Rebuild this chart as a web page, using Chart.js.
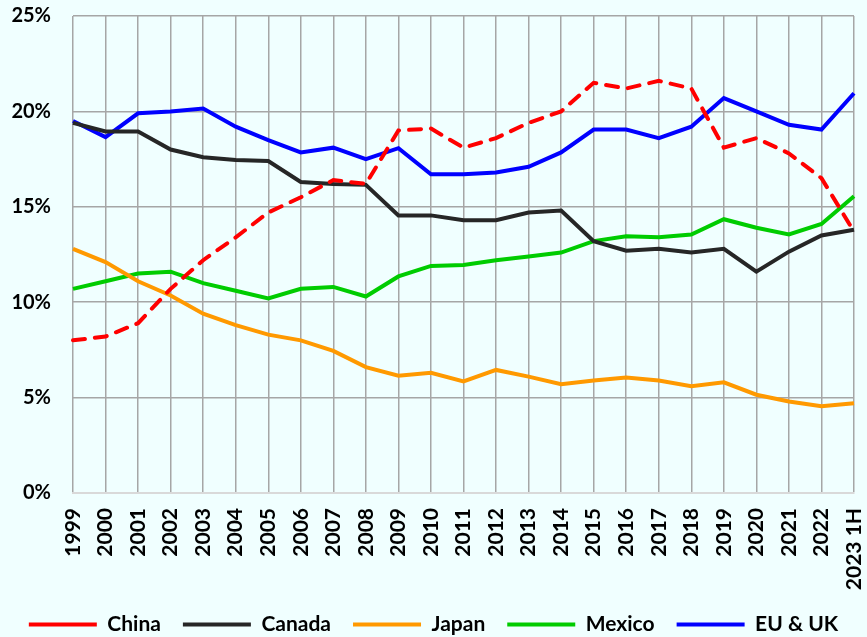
<!DOCTYPE html>
<html>
<head>
<meta charset="utf-8">
<script src="https://cdn.jsdelivr.net/npm/chart.js@4/dist/chart.umd.min.js"></script>
<style>
  html, body { margin: 0; padding: 0; background: #F0FFFF; }
  #wrap { width: 867px; height: 637px; position: relative; }
</style>
</head>
<body>
<div id="wrap"><canvas id="shareChart"></canvas></div>
<script>
const YEARS = ['1999', '2000', '2001', '2002', '2003', '2004', '2005', '2006', '2007', '2008', '2009', '2010',
    '2011', '2012', '2013', '2014', '2015', '2016', '2017', '2018', '2019', '2020', '2021', '2022', '2023 1H'];

const CHINA = [8.0, 8.2, 8.9, 10.7, 12.2, 13.4, 14.7, 15.5, 16.4, 16.2, 19.0, 19.1,
    18.1, 18.6, 19.4, 20.0, 21.5, 21.2, 21.6, 21.2, 18.1, 18.6, 17.8, 16.5, 13.7];
const CANADA = [19.4, 18.95, 18.95, 18.0, 17.6, 17.45, 17.4, 16.3, 16.2, 16.15, 14.55, 14.55,
    14.3, 14.3, 14.7, 14.8, 13.2, 12.7, 12.8, 12.6, 12.8, 11.6, 12.65, 13.5, 13.8];
const JAPAN = [12.8, 12.1, 11.1, 10.35, 9.4, 8.8, 8.3, 8.0, 7.45, 6.6, 6.15, 6.3,
    5.85, 6.45, 6.1, 5.7, 5.9, 6.05, 5.9, 5.6, 5.8, 5.15, 4.8, 4.55, 4.7];
const MEXICO = [10.7, 11.1, 11.5, 11.6, 11.0, 10.6, 10.2, 10.7, 10.8, 10.3, 11.35, 11.9,
    11.95, 12.2, 12.4, 12.6, 13.2, 13.45, 13.4, 13.55, 14.35, 13.9, 13.55, 14.1, 15.55];
const EU_UK = [19.5, 18.65, 19.9, 20.0, 20.15, 19.2, 18.5, 17.85, 18.1, 17.5, 18.07, 16.7,
    16.7, 16.8, 17.1, 17.85, 19.05, 19.05, 18.6, 19.2, 20.7, 20.0, 19.3, 19.05, 20.95];

function series(label, data, color, dash) {
    return {
        label: label,
        data: data,
        borderColor: color,
        backgroundColor: color,
        borderWidth: 4,
        borderDash: dash || [],
        borderCapStyle: dash ? 'round' : 'butt',
        pointRadius: 0,
        pointHoverRadius: 0,
        tension: 0,
        fill: false
    };
}

const dataShares = {
    labels: YEARS,
    datasets: [
        series('China', CHINA, '#FF0000', [12, 10]),
        series('Canada', CANADA, '#262626'),
        series('Japan', JAPAN, '#FF9900'),
        series('Mexico', MEXICO, '#00CC00'),
        series('EU & UK', EU_UK, '#0000FF')
    ]
};

const FONT = "Lato, 'Open Sans', sans-serif";
const HIDDEN = 'rgba(0,0,0,0)';

const configShares = {
    type: 'line',
    data: dataShares,
    options: {
        responsive: true,
        maintainAspectRatio: false,
        animation: false,
        layout: { padding: { top: 16, right: 0, left: 0, bottom: -8 } },
        scales: {
            x: {
                grid: { color: '#A6A6A6', lineWidth: 1.5, drawTicks: true, tickLength: 15, tickColor: HIDDEN },
                border: { color: '#D9D9D9', width: 2 },
                ticks: {
                    color: '#000',
                    font: { family: FONT, size: 21, weight: 'bold' },
                    minRotation: 90,
                    maxRotation: 90,
                    padding: 0,
                    autoSkip: false
                },
                afterFit: scale => {
                    scale.height = 99;
                    scale.paddingRight = 13;
                }
            },
            y: {
                min: 0,
                max: 25,
                grid: { color: '#A6A6A6', lineWidth: 1.5, drawTicks: true, tickLength: 22, tickColor: HIDDEN },
                border: { display: false },
                ticks: {
                    stepSize: 5,
                    color: '#000',
                    font: { family: FONT, size: 20, weight: 'bold', lineHeight: 1 },
                    padding: 0,
                    callback: v => v + '%'
                },
                afterFit: scale => { scale.width = 73; }
            }
        },
        plugins: {
            legend: {
                position: 'bottom',
                labels: {
                    usePointStyle: true,
                    pointStyle: 'line',
                    pointStyleWidth: 68,
                    padding: 22,
                    color: '#000',
                    font: { family: FONT, size: 21, weight: 'bold' }
                }
            },
            tooltip: { enabled: false }
        }
    }
};

var shareChart = new Chart(document.getElementById('shareChart'), configShares);
</script>
</body>
</html>
